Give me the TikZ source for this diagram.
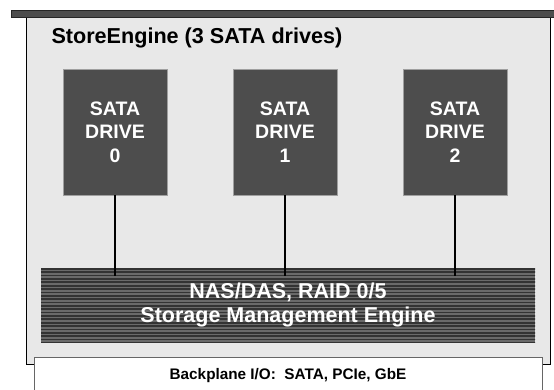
\documentclass[tikz,border=0pt]{standalone}
\usepackage{fontspec}
\setmainfont{Liberation Sans}
\usepackage{xcolor}
\usepackage{tikz}
\usetikzlibrary{positioning, calc}

\definecolor{drivegray}{HTML}{4D4D4D}
\definecolor{panelgray}{HTML}{E8E8E8}
\definecolor{enggray}{HTML}{6A6A6A}
\definecolor{stripegray}{HTML}{333333}

\begin{document}
\begin{tikzpicture}[
    x=1pt, y=-1pt,
    panelbox/.style={rectangle, draw=black, line width=1pt, fill=panelgray, inner sep=0pt, outer sep=0pt},
    barbox/.style={rectangle, draw=black!85, line width=0.8pt, fill=drivegray, inner sep=0pt, outer sep=0pt},
    drivebox/.style={rectangle, draw=gray!75, line width=0.8pt, fill=drivegray, minimum width=104pt, minimum height=126pt, inner sep=0pt, outer sep=0pt, align=center, text=white, font=\fontsize{19.5}{23.3}\selectfont\bfseries},
    enginebox/.style={rectangle, fill=enggray, minimum width=494pt, minimum height=74pt, inner sep=0pt, outer sep=0pt, align=center, text=white, font=\fontsize{21.5}{23.3}\selectfont\bfseries,
        path picture={\foreach \k in {0,...,22} \draw[line width=1.7pt, draw=stripegray] ($(path picture bounding box.north west)+(0,\k*3.36+0.9)$) -- ++(500,0);}},
    iobox/.style={rectangle, draw=gray!80!black, line width=1pt, fill=white, minimum width=508pt, minimum height=38pt, inner sep=0pt, outer sep=0pt, font=\fontsize{15.3}{18}\selectfont\bfseries},
    wire/.style={line width=1.6pt, draw=black}
]
\useasboundingbox (0,0) rectangle (554,390);
\clip (0,0) rectangle (554,390);

% =============================================================
% Enclosure: panel, top bar and title
% =============================================================
\node[panelbox, minimum width=524pt, minimum height=346.3pt] (panel) at (288, 190.85) {};
\node[barbox, minimum width=549pt, minimum height=7pt] (topbar) at (285.5, 14.2) {};
\node[anchor=base west, font=\fontsize{21.6}{25}\selectfont\bfseries] (title) at (48, 43.3) {StoreEngine (3 SATA drives)};

% =============================================================
% Drives (y = 132)
% =============================================================
\node[drivebox] (drive0) at (115, 132) {SATA\\DRIVE\\0};
\node[drivebox] (drive1) at (285, 132) {SATA\\DRIVE\\1};
\node[drivebox] (drive2) at (455, 132) {SATA\\DRIVE\\2};

% =============================================================
% Storage management engine and drive links
% =============================================================
\node[enginebox] (engine) at (288, 305) {NAS/DAS, RAID 0/5\\Storage Management Engine};

\draw[wire] (drive0.south) -- ($(engine.north -| drive0.south)+(0,8)$);
\draw[wire] (drive1.south) -- ($(engine.north -| drive1.south)+(0,8)$);
\draw[wire] (drive2.south) -- ($(engine.north -| drive2.south)+(0,8)$);

% =============================================================
% Backplane
% =============================================================
\node[iobox] (backplane) at (288, 376) {Backplane I/O:\ \ SATA, PCIe, GbE};

\end{tikzpicture}
\end{document}
